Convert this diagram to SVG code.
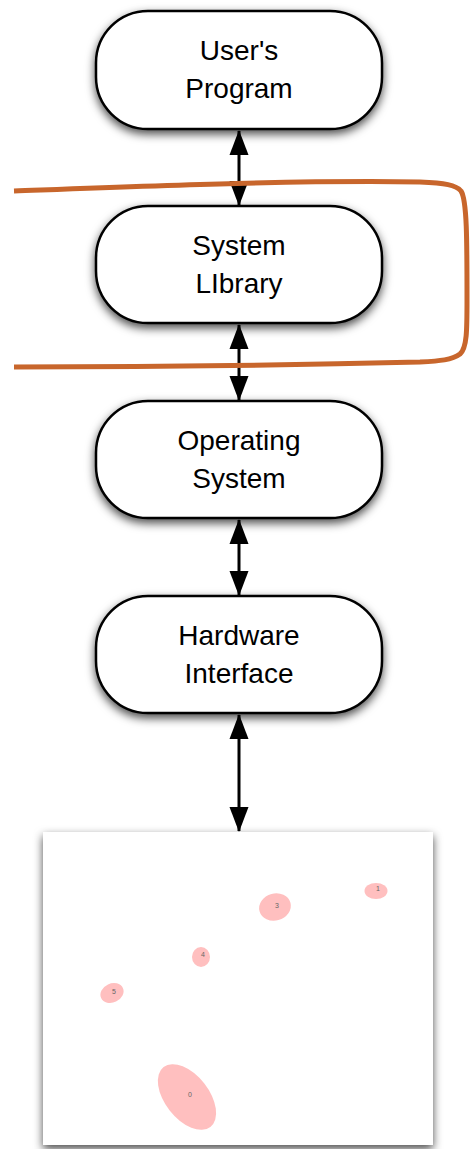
<svg xmlns="http://www.w3.org/2000/svg" width="473" height="1149" viewBox="0 0 473 1149">
  <defs>
    <filter id="shadow" x="-20%" y="-25%" width="140%" height="160%">
      <feDropShadow dx="0" dy="4" stdDeviation="5" flood-color="#000" flood-opacity="0.7"/>
    </filter>
    <marker id="head" viewBox="0 0 25 20" refX="24" refY="10" markerWidth="25" markerHeight="20" markerUnits="userSpaceOnUse" orient="auto-start-reverse">
      <path d="M0,0.5 L25,10 L0,19.5 Z" fill="#000"/>
    </marker>
    <style>
      .node rect { fill: #fff; stroke: #000; stroke-width: 2.5; filter: url(#shadow); }
      .node text { font-family: "Liberation Sans", Arial, sans-serif; font-size: 28px; fill: #000; text-anchor: middle; }
      .link { stroke: #000; stroke-width: 3; fill: none; marker-start: url(#head); marker-end: url(#head); }
      .blob { fill: #ffbfbf; }
      .blob-label { font-family: "Liberation Sans", Arial, sans-serif; font-size: 7px; fill: #666; text-anchor: middle; }
    </style>
  </defs>

  <rect width="473" height="1149" fill="#fff"/>

  <!-- connectors -->
  <g id="connectors">
    <line class="link" x1="239" y1="131" x2="239" y2="205"/>
    <line class="link" x1="239" y1="325" x2="239" y2="400"/>
    <line class="link" x1="239" y1="520" x2="239" y2="595"/>
    <line class="link" x1="239" y1="715" x2="239" y2="831"/>
  </g>

  <g id="users-program" class="node">
    <rect x="96" y="11" width="286" height="118" rx="52" ry="52"/>
    <text x="239" y="60">User's</text>
    <text x="239" y="98">Program</text>
  </g>

  <g id="system-library" class="node">
    <rect x="96" y="206" width="286" height="117" rx="52" ry="52"/>
    <text x="239" y="255">System</text>
    <text x="239" y="293">LIbrary</text>
  </g>

  <g id="operating-system" class="node">
    <rect x="96" y="401" width="286" height="117" rx="52" ry="52"/>
    <text x="239" y="450">Operating</text>
    <text x="239" y="488">System</text>
  </g>

  <g id="hardware-interface" class="node">
    <rect x="96" y="596" width="286" height="117" rx="52" ry="52"/>
    <text x="239" y="645">Hardware</text>
    <text x="239" y="683">Interface</text>
  </g>

  <!-- hand-drawn loop around the system library -->
  <path d="M14,191 C150,186 300,180 420,182 C445,183 456,185 461,191 C467,200 467,240 467,300 C467,330 467,348 460,354 C452,360 440,361 420,362 C300,365 150,367 14,367" fill="none" stroke="#c8662c" stroke-width="5" stroke-linejoin="round"/>

  <!-- hardware panel -->
  <g id="hardware-panel">
    <rect x="43" y="832" width="390" height="313" fill="#fff" filter="url(#shadow)"/>
    <ellipse class="blob" cx="376" cy="891" rx="11.5" ry="8"/>
    <text class="blob-label" x="378" y="891">1</text>
    <ellipse class="blob" cx="275" cy="907" rx="16" ry="13.5" transform="rotate(-15 275 907)"/>
    <text class="blob-label" x="277" y="908">3</text>
    <ellipse class="blob" cx="201" cy="957" rx="9" ry="10"/>
    <text class="blob-label" x="203" y="957">4</text>
    <ellipse class="blob" cx="112" cy="993" rx="12" ry="9.5" transform="rotate(-25 112 993)"/>
    <text class="blob-label" x="114" y="994">5</text>
    <ellipse class="blob" cx="187" cy="1097" rx="38" ry="22" transform="rotate(52 187 1097)"/>
    <text class="blob-label" x="190" y="1097">0</text>
  </g>
</svg>
